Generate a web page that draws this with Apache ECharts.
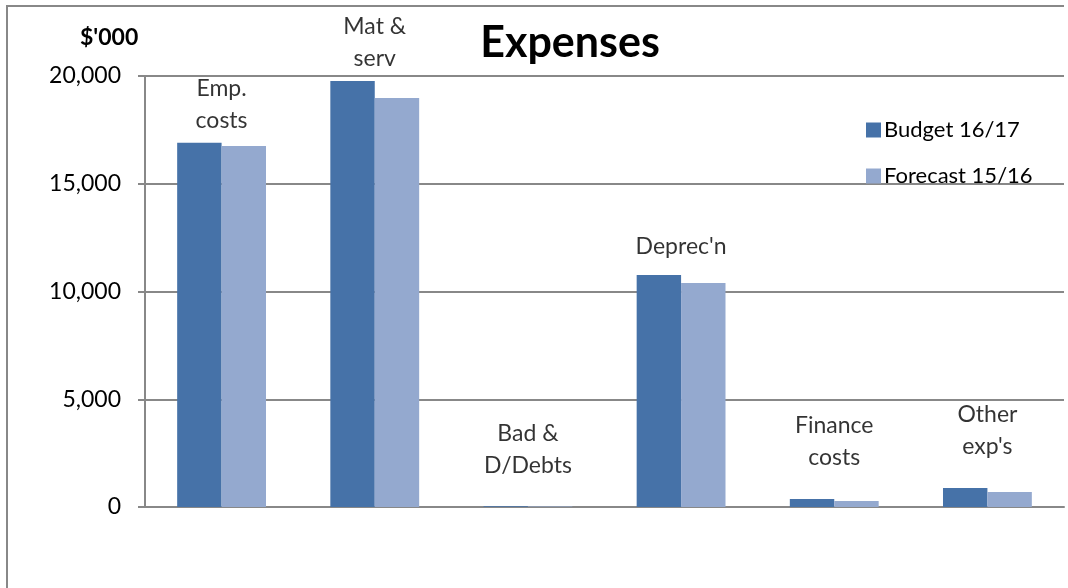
<!DOCTYPE html>
<html>
<head>
<meta charset="utf-8">
<script src="https://cdn.jsdelivr.net/npm/echarts@6/dist/echarts.min.js"></script>
<style>
  html, body { margin: 0; padding: 0; background: #fff; }
  #chart { width: 1068px; height: 588px; }
</style>
</head>
<body>
<div id="chart"></div>
<script>
// Expense categories (label text shown above each pair of bars)
const categories = ["Emp.\ncosts", "Mat &\nserv", "Bad &\nD/Debts", "Deprec'n", "Finance\ncosts", "Other\nexp's"];
// Values in $'000
const budget1617 = [16900, 19770, 30, 10770, 370, 880];
const forecast1516 = [16750, 18980, 20, 10390, 280, 700];
const yTicks = [0, 5000, 10000, 15000, 20000];

const FONT = 'Lato, "Open Sans", sans-serif';
const BLUE = '#4672A8';
const LIGHT = '#94A9CF';
const GRID_GRAY = '#888';

const chart = echarts.init(document.getElementById('chart'), null, { renderer: 'canvas' });

// Category captions sit above the taller bar of each pair;
// captions over very short bars are lifted a little more.
const captionData = categories.map((c, i) => {
  const top = Math.max(budget1617[i], forecast1516[i]);
  const singleLine = c.indexOf('\n') < 0;
  return {
    value: top,
    label: { distance: top < 2000 ? 25 : (singleLine ? 12 : 6) }
  };
});

chart.setOption({
  animation: false,
  backgroundColor: '#fff',
  title: {
    text: 'Expenses',
    left: 565,
    top: 17,
    textAlign: 'center',
    textStyle: { fontFamily: FONT, fontSize: 43, fontWeight: 'bold', color: '#000' }
  },
  graphic: [
    {
      type: 'polyline',
      shape: { points: [[7, 600], [7, 6], [1064, 6]] },
      style: { fill: 'none', stroke: GRID_GRAY, lineWidth: 2 },
      silent: true, z: -1
    },
    {
      type: 'text',
      left: 80, top: 26,
      style: { text: "$'000", fontFamily: FONT, fontSize: 23, fontWeight: 'bold', fill: '#000' }
    }
  ],
  legend: {
    left: 861,
    top: 114,
    orient: 'vertical',
    itemWidth: 15,
    itemHeight: 15,
    itemGap: 24,
    icon: 'rect',
    textStyle: { fontFamily: FONT, fontSize: 22, color: '#000', padding: [0, 0, 0, -2] },
    data: ['Budget 16/17', 'Forecast 15/16']
  },
  grid: { left: 145, right: 4, top: 76, bottom: 81, containLabel: false },
  xAxis: {
    type: 'category',
    data: categories,
    axisLine: { lineStyle: { color: GRID_GRAY, width: 2 } },
    axisTick: { show: false },
    axisLabel: { show: false }
  },
  yAxis: {
    type: 'value',
    min: 0, max: 20000, interval: 5000,
    axisLine: { show: true, lineStyle: { color: GRID_GRAY, width: 2 } },
    axisTick: { show: true, length: 7, lineStyle: { color: GRID_GRAY, width: 2 } },
    splitLine: { lineStyle: { color: GRID_GRAY, width: 2 } },
    axisLabel: {
      margin: 24,
      fontFamily: FONT, fontSize: 23, color: '#000',
      formatter: v => yTicks.includes(v) ? v.toLocaleString('en-US') : ''
    }
  },
  series: [
    {
      name: 'Budget 16/17',
      type: 'bar',
      data: budget1617,
      barGap: '0%',
      barCategoryGap: '42%',
      itemStyle: { color: BLUE }
    },
    {
      name: 'Forecast 15/16',
      type: 'bar',
      data: forecast1516,
      itemStyle: { color: LIGHT }
    },
    {
      name: 'captions',
      type: 'scatter',
      data: captionData,
      symbolSize: 0,
      silent: true,
      label: {
        show: true,
        position: 'top',
        formatter: p => categories[p.dataIndex],
        fontFamily: FONT, fontSize: 23, color: '#000',
        lineHeight: 32, align: 'center'
      }
    }
  ]
});
</script>
</body>
</html>
